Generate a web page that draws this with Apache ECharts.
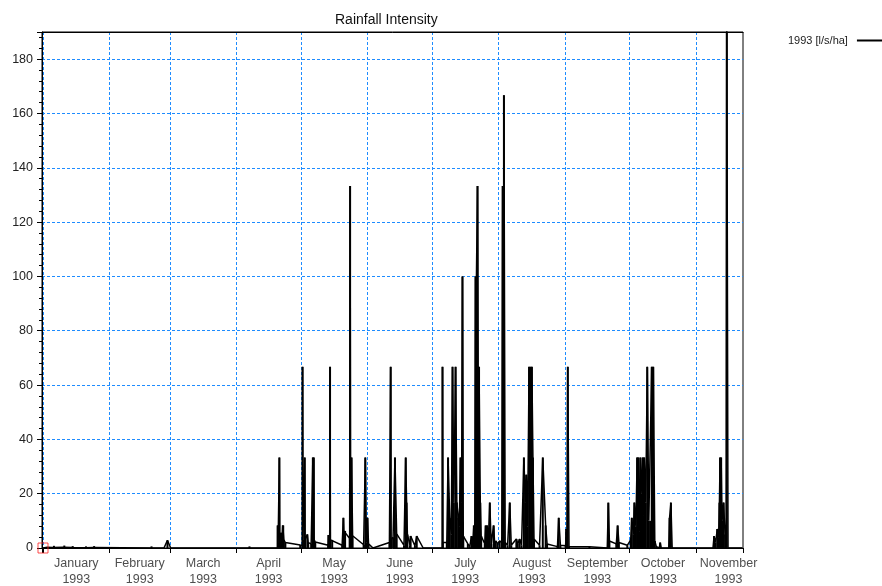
<!DOCTYPE html>
<html>
<head>
<meta charset="utf-8">
<title>Rainfall Intensity</title>
<script src="https://cdn.jsdelivr.net/npm/echarts@6/dist/echarts.min.js"></script>
<style>
  html, body { margin: 0; padding: 0; background: #fff; }
  #chart { width: 882px; height: 586px; }
</style>
</head>
<body>
<div id="chart"></div>
<script>
// Rainfall intensity record for 1993, [l/s/ha]; times are 'MM-DD HH:mm'
const YEAR = '1993';
const SERIES_NAME = '1993 [l/s/ha]';
const MONTH_NAMES = ['January', 'February', 'March', 'April', 'May', 'June',
  'July', 'August', 'September', 'October', 'November'];
const Y_TICKS = { min: 0, max: 190, step: 20 };

const january = [
  ['01-01 00:00', 0], ['01-03 00:00', 0.3], ['01-05 12:00', 0.2], ['01-06 02:00', 0.8],
  ['01-06 10:00', 0.2], ['01-10 12:00', 0.3], ['01-10 22:00', 0.9], ['01-11 06:00', 0.2],
  ['01-14 16:00', 0.2], ['01-14 20:00', 0.7], ['01-15 04:00', 0.1], ['01-20 20:00', 0.1],
  ['01-21 00:00', 0.6], ['01-21 08:00', 0.1], ['01-24 12:00', 0.2], ['01-24 19:00', 0.7],
  ['01-25 02:00', 0]
];
const february = [
  ['02-20 08:00', 0], ['02-20 12:00', 0.6], ['02-20 16:00', 0],
  ['02-26 07:00', 0], ['02-27 22:00', 2.8]
];
const march = [
  ['03-01 10:00', 0]
];
const april = [
  ['04-07 00:00', 0], ['04-07 02:00', 0.6], ['04-07 06:00', 0],
  ['04-20 04:00', 0], ['04-20 05:00', 8.3], ['04-20 10:00', 2], ['04-20 23:00', 2],
  ['04-21 00:00', 33.3], ['04-21 04:00', 3], ['04-21 19:00', 5.6], ['04-22 04:00', 2],
  ['04-22 14:00', 8.3], ['04-22 19:00', 8.3], ['04-23 02:00', 3], ['04-23 19:00', 2],
  ['04-30 17:00', 1.1]
];
const may = [
  ['05-01 18:00', 1.0], ['05-01 19:00', 66.7], ['05-01 23:00', 3], ['05-02 18:00', 3],
  ['05-02 19:00', 33.3], ['05-02 23:00', 3], ['05-04 00:00', 5], ['05-04 10:00', 2],
  ['05-05 19:00', 1.5], ['05-06 13:00', 1.5], ['05-06 14:00', 33.3], ['05-06 18:00', 4],
  ['05-07 00:00', 33.3], ['05-07 04:00', 3], ['05-07 17:00', 2.2], ['05-13 17:00', 1.0],
  ['05-13 20:00', 4.8], ['05-14 10:00', 1.5], ['05-14 14:00', 66.7], ['05-14 18:00', 3],
  ['05-15 14:00', 3], ['05-20 05:00', 1], ['05-20 18:00', 1], ['05-20 19:00', 11.1],
  ['05-21 00:00', 6.3], ['05-21 14:00', 6.3], ['05-23 17:00', 3.5], ['05-23 22:00', 133.3],
  ['05-24 04:00', 4], ['05-24 14:00', 33.3], ['05-25 02:00', 4.5], ['05-30 05:00', 1.2],
  ['05-30 23:00', 1.2], ['05-31 00:00', 33.3], ['05-31 12:00', 2]
];
const june = [
  ['06-01 00:00', 11.1], ['06-01 12:00', 1.5], ['06-03 14:00', 0],
  ['06-11 05:00', 2], ['06-11 19:00', 66.7], ['06-11 23:00', 3], ['06-12 22:00', 4],
  ['06-13 19:00', 33.3], ['06-14 14:00', 5.2], ['06-18 00:00', 1], ['06-18 19:00', 33.3],
  ['06-19 05:00', 16.7], ['06-19 14:00', 5], ['06-20 19:00', 1], ['06-21 02:00', 4.4],
  ['06-23 02:00', 0.8], ['06-23 22:00', 4.4], ['06-26 22:00', 0]
];
const july = [
  ['07-05 21:00', 0], ['07-05 22:00', 66.7], ['07-06 02:00', 2], ['07-07 22:00', 2],
  ['07-08 12:00', 33.3], ['07-09 07:00', 11.1], ['07-10 00:00', 5], ['07-10 14:00', 66.7],
  ['07-11 05:00', 16.7], ['07-12 00:00', 66.7], ['07-12 14:00', 16.7], ['07-13 07:00', 11.1],
  ['07-13 17:00', 8], ['07-14 07:00', 33.3], ['07-14 19:00', 16.7], ['07-15 05:00', 100],
  ['07-15 14:00', 4.4], ['07-17 17:00', 1.5], ['07-18 14:00', 0.5], ['07-19 10:00', 4.4],
  ['07-20 00:00', 1.5], ['07-20 12:00', 8.3], ['07-20 22:00', 3], ['07-21 07:00', 100],
  ['07-21 12:00', 20], ['07-21 17:00', 100], ['07-22 05:00', 133.3], ['07-22 12:00', 66.7],
  ['07-22 17:00', 30], ['07-22 22:00', 66.7], ['07-23 12:00', 16.7], ['07-23 22:00', 4.4],
  ['07-25 14:00', 1.5], ['07-26 00:00', 8.3], ['07-26 10:00', 1.5], ['07-26 17:00', 8.3],
  ['07-27 05:00', 1.5], ['07-27 22:00', 16.7], ['07-28 14:00', 1.5], ['07-29 17:00', 8.3],
  ['07-30 05:00', 1.5], ['07-30 17:00', 2.6], ['07-31 14:00', 1.5]
];
const august = [
  ['08-01 12:00', 2.6], ['08-02 12:00', 2], ['08-02 22:00', 133.3], ['08-03 05:00', 40],
  ['08-03 12:00', 166.7], ['08-04 02:00', 2], ['08-05 05:00', 1], ['08-06 05:00', 16.7],
  ['08-06 22:00', 1], ['08-09 07:00', 3.3], ['08-09 22:00', 1.5], ['08-10 19:00', 3.3],
  ['08-11 17:00', 1], ['08-12 19:00', 33.3], ['08-13 10:00', 16.7], ['08-13 22:00', 27],
  ['08-14 12:00', 8], ['08-15 05:00', 66.7], ['08-15 14:00', 30], ['08-15 22:00', 66.7],
  ['08-16 05:00', 40], ['08-16 12:00', 66.7], ['08-17 00:00', 33.3], ['08-17 12:00', 3.3],
  ['08-20 02:00', 1], ['08-21 14:00', 33.3], ['08-22 22:00', 8.3], ['08-23 14:00', 1.5],
  ['08-28 10:00', 0.5], ['08-29 00:00', 11.1], ['08-29 19:00', 1]
];
const september = [
  ['09-01 05:00', 0.8], ['09-01 12:00', 7], ['09-01 19:00', 2], ['09-02 05:00', 66.7],
  ['09-02 19:00', 0.5], ['09-12 07:00', 0.5], ['09-13 05:00', 0], ['09-20 14:00', 0],
  ['09-21 02:00', 16.7], ['09-21 14:00', 2.6], ['09-24 19:00', 1.5], ['09-25 10:00', 8.3],
  ['09-26 00:00', 2], ['09-29 22:00', 1]
];
const october = [
  ['10-01 12:00', 3], ['10-02 00:00', 11.1], ['10-02 17:00', 5], ['10-03 05:00', 16.7],
  ['10-03 22:00', 8], ['10-04 12:00', 33.3], ['10-04 18:00', 10], ['10-05 00:00', 33.3],
  ['10-05 12:00', 6], ['10-06 00:00', 33.3], ['10-06 17:00', 20], ['10-07 02:00', 33.3],
  ['10-07 10:00', 12], ['10-07 19:00', 33.3], ['10-08 12:00', 16.7], ['10-09 05:00', 66.7],
  ['10-09 22:00', 10], ['10-10 14:00', 10], ['10-11 07:00', 66.7], ['10-11 14:00', 30],
  ['10-12 00:00', 66.7], ['10-12 17:00', 2.6], ['10-13 10:00', 0.5], ['10-14 19:00', 0],
  ['10-15 05:00', 2], ['10-15 17:00', 0], ['10-19 05:00', 0], ['10-19 14:00', 11.1],
  ['10-20 05:00', 16.7], ['10-20 19:00', 0]
];
const november = [
  ['11-08 19:00', 0], ['11-09 07:00', 4.4], ['11-10 00:00', 2], ['11-10 19:00', 7],
  ['11-11 10:00', 4], ['11-11 19:00', 16.7], ['11-12 02:00', 33.3], ['11-12 08:00', 12],
  ['11-12 14:00', 33.3], ['11-13 00:00', 10], ['11-13 17:00', 16.7], ['11-14 10:00', 5],
  ['11-14 22:00', 2], ['11-15 05:00', 200], ['11-15 19:00', 0], ['11-22 07:00', 0]
];

// first record, highlighted with a hollow square
const firstRecord = [['01-01 00:00', 0]];

const toSeries = (rows) => rows.map((r) => [YEAR + '-' + r[0], r[1]]);
const rainfall = toSeries([].concat(january, february, march, april, may, june,
  july, august, september, october, november));

// centre of each calendar month, used to place the month captions
const monthCentres = MONTH_NAMES.map((name, i) => {
  const a = new Date(+YEAR, i, 1).getTime();
  const b = new Date(+YEAR, i + 1, 1).getTime();
  return { value: [(a + b) / 2, 0], name: name };
});

const FONT = '"Liberation Sans", Arial, sans-serif';
const GRID_BLUE = '#1E8CFF';
const DAY = 86400000;

const chart = echarts.init(document.getElementById('chart'), null, { renderer: 'canvas' });
chart.setOption({
  backgroundColor: '#fff',
  animation: false,
  title: {
    text: 'Rainfall Intensity',
    left: 335, top: 13, padding: 0,
    textStyle: { fontFamily: FONT, fontSize: 14, fontWeight: 'normal', color: '#111' }
  },
  legend: {
    data: [SERIES_NAME],
    left: 783, top: 30,
    align: 'right',
    icon: 'rect',
    itemWidth: 26, itemHeight: 2,
    selectedMode: false,
    textStyle: { fontFamily: FONT, fontSize: 11, color: '#222', padding: [0, 4, 0, 0] }
  },
  grid: {
    left: 42, right: 139, top: 32, bottom: 38,
    show: true, borderColor: '#000', borderWidth: 1, backgroundColor: 'transparent'
  },
  xAxis: [
    {
      type: 'time',
      min: new Date(+YEAR, 0, 1).getTime(),
      max: new Date(+YEAR, 10, 22, 7).getTime(),
      splitNumber: 11,
      minInterval: 28 * DAY,
      maxInterval: 31 * DAY,
      axisLine: { show: true, lineStyle: { color: '#000', width: 1 } },
      axisTick: { show: true, length: 5, lineStyle: { color: '#000' } },
      axisLabel: { show: false },
      splitLine: {
        show: true, showMinLine: false, showMaxLine: false,
        lineStyle: { color: GRID_BLUE, type: [3, 2], width: 1 }
      }
    },
    {
      // plain frame line along the top of the plot
      type: 'value', position: 'top', min: 0, max: 1,
      axisLine: { show: true, onZero: false, lineStyle: { color: '#000', width: 1 } },
      axisTick: { show: false }, axisLabel: { show: false }, splitLine: { show: false }
    }
  ],
  yAxis: {
    type: 'value',
    min: Y_TICKS.min, max: Y_TICKS.max, interval: Y_TICKS.step,
    axisLine: { show: true, lineStyle: { color: '#000', width: 1 } },
    axisTick: { show: true, length: 5, lineStyle: { color: '#000' } },
    minorTick: { show: true, splitNumber: 5, length: 3, lineStyle: { color: '#000' } },
    axisLabel: { fontFamily: FONT, fontSize: 12.5, color: '#222', margin: 9, showMaxLabel: false },
    splitLine: {
      show: true, showMinLine: false, showMaxLine: false,
      lineStyle: { color: GRID_BLUE, type: [3, 2], width: 1 }
    }
  },
  series: [
    {
      name: SERIES_NAME,
      type: 'line',
      data: rainfall,
      showSymbol: false,
      symbol: 'none',
      clip: true,
      color: '#000',
      lineStyle: { color: '#000', width: 1.5 },
      z: 3
    },
    {
      // each record as a narrow pulse from the baseline
      name: SERIES_NAME,
      type: 'bar',
      data: rainfall,
      barWidth: 2,
      clip: true,
      color: '#000',
      itemStyle: { color: '#000' },
      z: 2
    },
    {
      name: 'first record',
      type: 'scatter',
      data: toSeries(firstRecord),
      symbol: 'rect',
      symbolSize: 10,
      clip: false,
      silent: true,
      itemStyle: { color: 'rgba(0,0,0,0)', borderColor: '#ff2020', borderWidth: 1 },
      z: 5
    },
    {
      name: 'months',
      type: 'scatter',
      data: monthCentres,
      symbolSize: 1,
      clip: false,
      silent: true,
      itemStyle: { color: 'rgba(0,0,0,0)' },
      label: {
        show: true,
        position: 'bottom',
        distance: 7,
        formatter: (p) => p.name + '\n' + YEAR,
        fontFamily: FONT, fontSize: 12.5, lineHeight: 16, color: '#222', align: 'center'
      }
    }
  ]
});
</script>
</body>
</html>
